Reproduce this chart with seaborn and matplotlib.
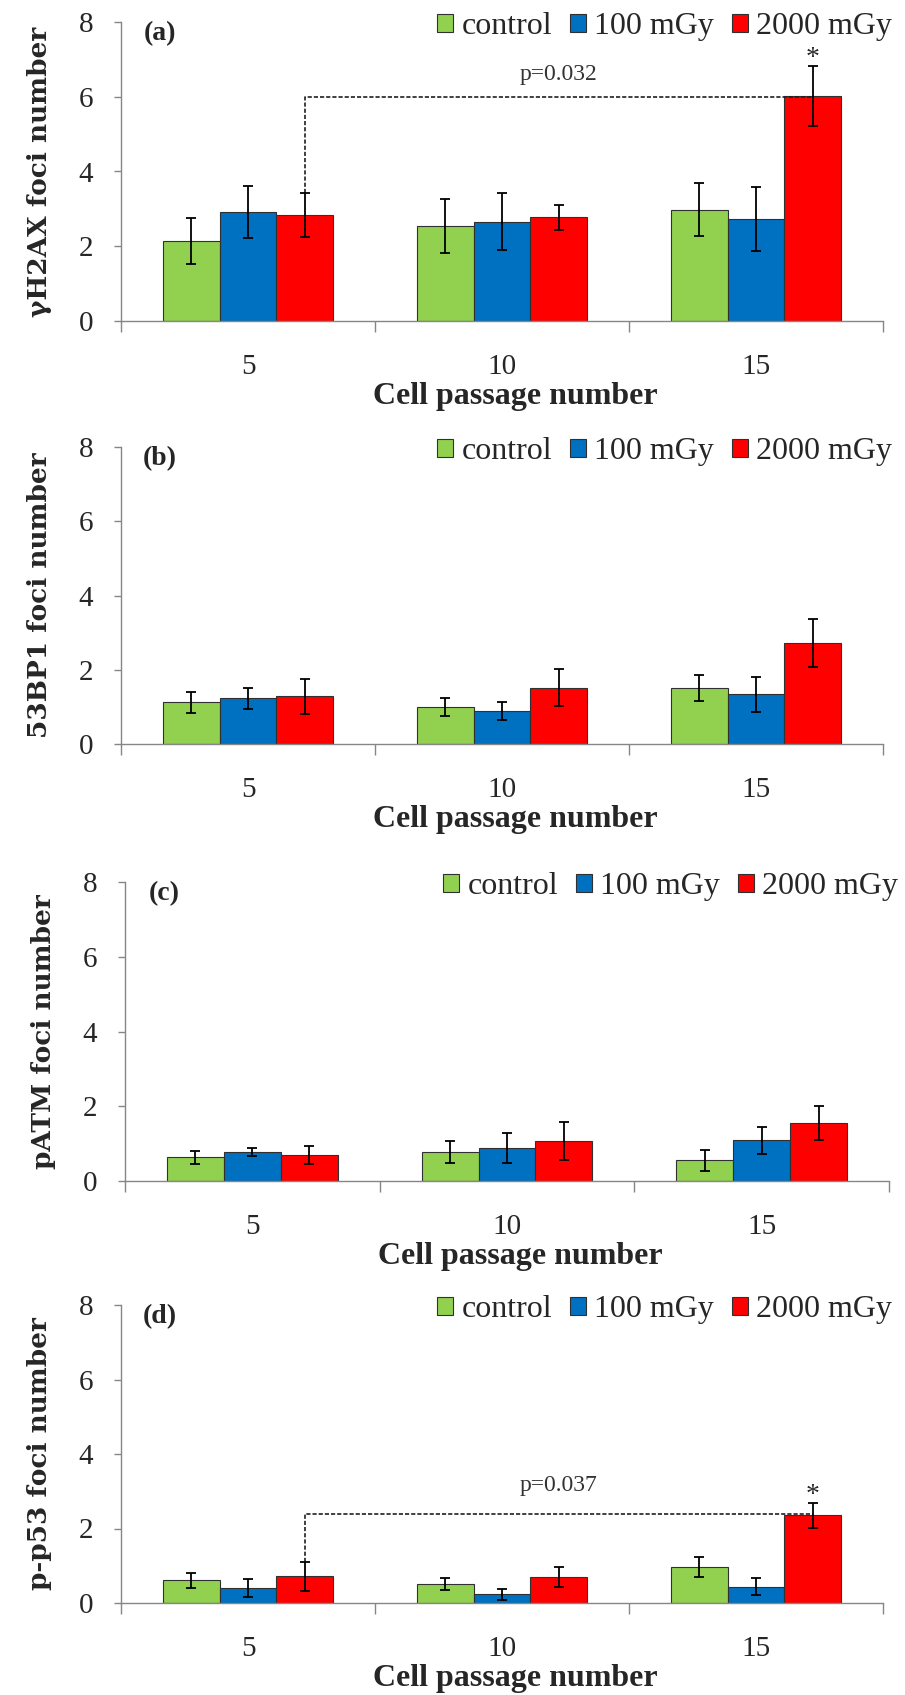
import pandas as pd
import matplotlib.pyplot as plt
import seaborn as sns

passages = ["5", "10", "15"]
groups = ["control", "100 mGy", "2000 mGy"]
colors = ["#92D050", "#0070C0", "#FF0000"]

# mean values per group (rows: control, 100 mGy, 2000 mGy; cols: passage 5, 10, 15)
h2ax = [[2.14, 2.55, 2.98], [2.91, 2.66, 2.72], [2.84, 2.77, 6.02]]
h2ax_err = [[0.62, 0.72, 0.71], [0.70, 0.77, 0.86], [0.58, 0.34, 0.80]]

bp53 = [[1.12, 0.99, 1.52], [1.23, 0.89, 1.34], [1.29, 1.52, 2.73]]
bp53_err = [[0.28, 0.24, 0.35], [0.28, 0.25, 0.47], [0.47, 0.50, 0.65]]

patm = [[0.63, 0.77, 0.55], [0.77, 0.89, 1.09], [0.69, 1.07, 1.55]]
patm_err = [[0.18, 0.29, 0.27], [0.11, 0.40, 0.36], [0.24, 0.51, 0.46]]

pp53 = [[0.61, 0.51, 0.97], [0.40, 0.23, 0.44], [0.72, 0.70, 2.35]]
pp53_err = [[0.20, 0.17, 0.26], [0.24, 0.14, 0.23], [0.39, 0.27, 0.34]]

ylabels = ["\u03b3H2AX foci number", "53BP1 foci number", "pATM foci number", "p-p53 foci number"]
panel_tags = ["(a)", "(b)", "(c)", "(d)"]
# significance brackets: panel index -> (bracket height, label height, label)
brackets = {0: (6.0, 6.6, "p=0.032"), 3: (2.4, 3.15, "p=0.037")}

sns.set_style("ticks")
plt.rcParams["font.family"] = ["Liberation Serif", "DejaVu Serif"]

W, H = 905, 1695
fig = plt.figure(figsize=(W / 100, H / 100), dpi=100)

# axes boxes in pixels: left, right, top, bottom
boxes = [(121, 883, 22, 321), (121, 883, 447, 744), (125, 889, 882, 1181), (121, 883, 1305, 1603)]

data = [(h2ax, h2ax_err), (bp53, bp53_err), (patm, patm_err), (pp53, pp53_err)]
axis_gray = "#868686"

for i, (vals, errs) in enumerate(data):
    l, r, t, b = boxes[i]
    ax = fig.add_axes([l / W, 1 - b / H, (r - l) / W, (b - t) / H])

    rows = []
    for g, gname in enumerate(groups):
        for p, pname in enumerate(passages):
            rows.append({"passage": pname, "group": gname, "value": vals[g][p], "err": errs[g][p]})
    df = pd.DataFrame(rows)

    sns.barplot(data=df, x="passage", y="value", hue="group", order=passages, hue_order=groups,
                palette=colors, saturation=1, width=0.67, gap=0, errorbar=None,
                edgecolor="#303030", linewidth=0.8, ax=ax)

    bar_conts = list(ax.containers)[:3]

    # error bars at bar centres
    for g, cont in enumerate(bar_conts):
        for p, bar in enumerate(cont):
            xc = bar.get_x() + bar.get_width() / 2
            ax.errorbar(xc, bar.get_height(), yerr=errs[g][p], color="black", lw=1.3,
                        capsize=3.5, capthick=1.3, zorder=5)
    red_bars = bar_conts[2]

    if i in brackets:
        yb, yt, txt = brackets[i]
        x0 = red_bars[0].get_x() + red_bars[0].get_width() / 2
        x1 = red_bars[2].get_x() + red_bars[2].get_width() / 2
        y0 = vals[2][0] + errs[2][0]
        ax.plot([x0, x0, x1], [y0, yb, yb], color="#202020", lw=1.2, ls=(0, (2.5, 1.2)), zorder=4)
        ax.text((x0 + x1) / 2, yt, txt, ha="center", va="center", fontsize=17,
                color="#333333")
        ax.text(x1, vals[2][2] + errs[2][2] + 0.2, "*", ha="center", va="center", fontsize=20)

    ax.set_ylim(0, 8)
    ax.set_xlim(-0.5, 2.5)
    ax.set_yticks([0, 2, 4, 6, 8])
    ax.set_xticks([-0.5, 0.5, 1.5, 2.5], minor=True)
    ax.tick_params(axis="x", which="major", length=0, pad=24, labelsize=21)
    ax.tick_params(axis="x", which="minor", length=8, width=1, color=axis_gray, direction="out")
    ax.tick_params(axis="y", length=5, width=1, color=axis_gray, pad=15, labelsize=21)

    for s in ["top", "right"]:
        ax.spines[s].set_visible(False)
    for s in ["left", "bottom"]:
        ax.spines[s].set_color(axis_gray)
        ax.spines[s].set_linewidth(1)

    ax.set_xlabel("Cell passage number", fontsize=23, fontweight="bold", labelpad=1, x=0.517)
    ax.set_ylabel(ylabels[i], fontsize=19, fontweight="bold", labelpad=19,
                  family=["DejaVu Serif"])

    ax.text(0.051, 0.962, panel_tags[i], transform=ax.transAxes, ha="center", va="center",
            fontsize=20, fontweight="bold")

    handles, labels = ax.get_legend_handles_labels()
    ax.legend(handles, labels, loc="center right", bbox_to_anchor=(1.012, 0.985), ncol=3,
              frameon=False, fontsize=23, handlelength=0.5, handleheight=0.5,
              handletextpad=0.27, columnspacing=0.55, borderpad=0, borderaxespad=0)

fig.savefig("out.png", dpi=100)
